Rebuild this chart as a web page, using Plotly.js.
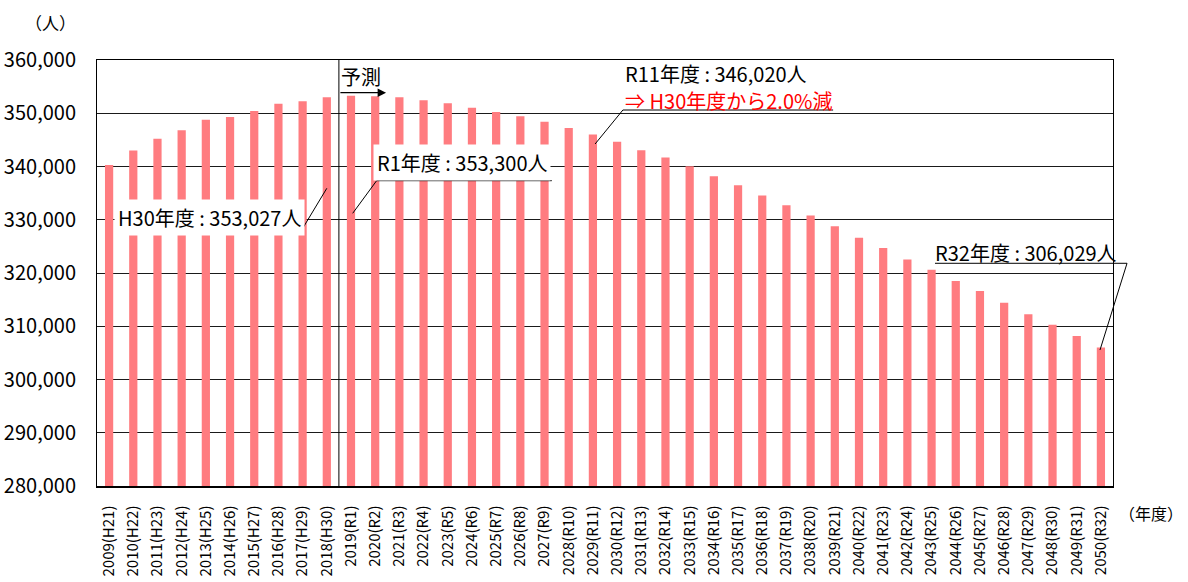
<!DOCTYPE html>
<html>
<head>
<meta charset="utf-8">
<script src="https://cdn.plot.ly/plotly-3.0.1.min.js"></script>
<style>html,body{margin:0;padding:0;background:#fff;}#chart{width:1188px;height:582px;}</style>
</head>
<body>
<div id="chart"></div>
<script>
const categories = [
  "2009(H21)","2010(H22)","2011(H23)","2012(H24)","2013(H25)","2014(H26)","2015(H27)","2016(H28)","2017(H29)","2018(H30)",
  "2019(R1)","2020(R2)","2021(R3)","2022(R4)","2023(R5)","2024(R6)","2025(R7)","2026(R8)","2027(R9)","2028(R10)",
  "2029(R11)","2030(R12)","2031(R13)","2032(R14)","2033(R15)","2034(R16)","2035(R17)","2036(R18)","2037(R19)","2038(R20)",
  "2039(R21)","2040(R22)","2041(R23)","2042(R24)","2043(R25)","2044(R26)","2045(R27)","2046(R28)","2047(R29)","2048(R30)",
  "2049(R31)","2050(R32)"
];
const population = [
  340300, 343000, 345200, 346800, 348800, 349300, 350400, 351800, 352250, 353027,
  353300, 353200, 353000, 352450, 351900, 351050, 350250, 349450, 348400, 347250,
  346020, 344650, 343050, 341700, 340050, 338150, 336500, 334550, 332700, 330800,
  328800, 326600, 324700, 322550, 320600, 318500, 316600, 314400, 312250, 310300,
  308150, 306029
];
const yTickVals = [280000, 290000, 300000, 310000, 320000, 330000, 340000, 350000, 360000];

const FONT = '"Noto Sans CJK JP", "Noto Sans", sans-serif';
const BAR = '#FF7C80';

const trace = {
  type: 'bar',
  x: categories,
  y: population,
  marker: {color: BAR},
  hoverinfo: 'x+y'
};

const lineStyle = {color: '#000', width: 1};

const shapes = [
  // forecast divider
  {type: 'line', xref: 'x', yref: 'paper', x0: 9.5, x1: 9.5, y0: 0, y1: 1, line: {color: '#000', width: 1}},
  // H30 callout
  {type: 'line', xref: 'x', yref: 'y', x0: 0.70, x1: 7.92, y0: 327757, y1: 327757, line: lineStyle},
  {type: 'line', xref: 'x', yref: 'y', x0: 7.92, x1: 9.0, y0: 327757, y1: 335907, line: lineStyle},
  // R1 callout
  {type: 'line', xref: 'x', yref: 'y', x0: 11.06, x1: 18.30, y0: 337334, y1: 337334, line: lineStyle},
  {type: 'line', xref: 'x', yref: 'y', x0: 11.06, x1: 10.07, y0: 337334, y1: 331212, line: lineStyle},
  // R11 callout
  {type: 'line', xref: 'x', yref: 'y', x0: 21.24, x1: 29.93, y0: 350610, y1: 350610, line: lineStyle},
  {type: 'line', xref: 'x', yref: 'y', x0: 21.24, x1: 20.09, y0: 350610, y1: 344226, line: lineStyle},
  // R32 callout (extends past plot edge)
  {type: 'line', xref: 'paper', yref: 'paper', x0: 0.8248, x1: 1.0138, y0: 0.5228, y1: 0.5228, line: lineStyle},
  {type: 'line', xref: 'paper', yref: 'paper', x0: 1.0138, x1: 0.9872, y0: 0.5228, y1: 0.3192, line: lineStyle}
];

const annFont = {family: FONT, size: 20, color: '#000'};
const annotations = [
  {xref: 'x', yref: 'y', x: 4.17, y: 330517, text: 'H30年度 : 353,027人', showarrow: false,
   font: annFont, bgcolor: '#fff', borderpad: 3, xanchor: 'center', yanchor: 'middle'},
  {xref: 'x', yref: 'y', x: 14.59, y: 340846, text: 'R1年度 : 353,300人', showarrow: false,
   font: annFont, bgcolor: '#fff', borderpad: 3, xanchor: 'center', yanchor: 'middle'},
  {xref: 'x', yref: 'y', x: 21.30, y: 357400, text: 'R11年度 : 346,020人',
   showarrow: false, font: annFont, xanchor: 'left', yanchor: 'middle', borderpad: 0},
  {xref: 'x', yref: 'y', x: 21.30, y: 352450, text: '⇒ H30年度から2.0%減',
   showarrow: false, font: {family: FONT, size: 20, color: '#FF0000'}, xanchor: 'left', yanchor: 'middle', borderpad: 0},
  {xref: 'x', yref: 'y', x: 37.90, y: 323944, text: 'R32年度 : 306,029人', showarrow: false,
   font: annFont, xanchor: 'center', yanchor: 'middle'},
  {xref: 'x', yref: 'y', x: 10.41, y: 356995, text: '予測', showarrow: false,
   font: annFont, xanchor: 'center', yanchor: 'middle'},
  {xref: 'x', yref: 'y', x: 11.45, y: 353859, ax: 9.5, ay: 353859, axref: 'x', ayref: 'y',
   text: '', showarrow: true, arrowhead: 2, arrowsize: 1.3, arrowwidth: 1.3, arrowcolor: '#000', standoff: 0, startstandoff: 0},
  {xref: 'paper', yref: 'paper', x: -0.0453, y: 1.0892, text: '（人）', showarrow: false,
   font: {family: FONT, size: 17, color: '#000'}, xanchor: 'center', yanchor: 'middle'},
  {xref: 'paper', yref: 'paper', x: 1.0374, y: -0.0634, text: '（年度）', showarrow: false,
   font: {family: FONT, size: 16, color: '#000'}, xanchor: 'center', yanchor: 'middle'}
];

const layout = {
  width: 1188, height: 582,
  margin: {l: 97, r: 75, t: 60, b: 96, pad: 0},
  paper_bgcolor: '#fff', plot_bgcolor: '#fff',
  font: {family: FONT, color: '#000'},
  showlegend: false,
  bargap: 0.66,
  xaxis: {
    type: 'category', range: [-0.5, 41.5], tickangle: -90, automargin: false,
    tickfont: {family: FONT, size: 15, color: '#000'},
    showline: true, linecolor: '#000', linewidth: 1.5, mirror: true,
    showgrid: false, ticks: '', ticklabelstandoff: 12, fixedrange: true
  },
  yaxis: {
    range: [280000, 360000], tickvals: yTickVals, tickformat: ',', automargin: false,
    tickfont: {family: FONT, size: 20, color: '#000'},
    showline: true, linecolor: '#000', linewidth: 1, mirror: true,
    showgrid: true, gridcolor: '#1a1a1a', gridwidth: 1, zeroline: false,
    ticks: '', ticklabelstandoff: 16, fixedrange: true
  },
  shapes: shapes,
  annotations: annotations
};

Plotly.newPlot('chart', [trace], layout, {displayModeBar: false, staticPlot: true});
</script>
</body>
</html>
